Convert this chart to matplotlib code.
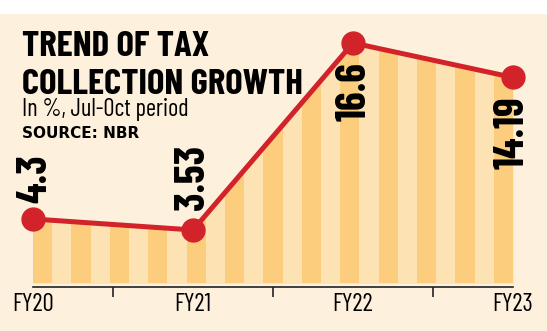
import numpy as np
import matplotlib
matplotlib.use("Agg")
import matplotlib.pyplot as plt
from matplotlib.patches import Rectangle

years = ["FY20", "FY21", "FY22", "FY23"]
growth = [4.3, 3.53, 16.6, 14.19]
labels = ["4.3", "3.53", "16.6", "14.19"]

BG = "#fdf0dc"
LIGHT = "#fde2b4"
DARK = "#fccd7d"
RED = "#d2232a"
NARROW = ["Barlow Condensed", "Archivo Narrow", "Liberation Sans Narrow", "DejaVu Sans"]

W, H = 547, 331
fig = plt.figure(figsize=(W / 100, H / 100), dpi=100, facecolor="white")
fig.patches.append(Rectangle((0, 0), 1, 1 - 14 / H, transform=fig.transFigure,
                             facecolor=BG, edgecolor="none", zorder=-10))

ax = fig.add_axes([0, 0, 1, 1])
ax.set_facecolor("none")
ax.set_xlim(-33 / 160, 514 / 160)
ax.set_ylim(-50.5 / 14.31, 280.5 / 14.31)

x = np.arange(len(years))
fill = ax.fill_between(x, growth, -0.2, color=LIGHT, lw=0, zorder=1)
clip = fill.get_paths()[0]

# darker vertical stripes clipped to the area under the line
step = 0.12
starts = np.arange(0, x[-1] + 1e-9, 2 * step)
bars = ax.bar(starts, 25, width=step, bottom=-0.2, align="edge", color=DARK, lw=0, zorder=2)
for b in bars:
    b.set_clip_path(clip, transform=ax.transData)

ax.plot(x, growth, color=RED, lw=3.6, zorder=3, solid_capstyle="round")
ax.plot(x, growth, "o", color=RED, ms=16.5, zorder=4)

offsets = [(2, 16, "bottom"), (0, 20, "bottom"), (2, -19, "top"), (0, -19, "top")]
for xi, v, t, (dx, dy, va) in zip(x, growth, labels, offsets):
    ax.annotate(t, (xi, v), xytext=(dx * 0.72, dy * 0.72), textcoords="offset points",
                rotation=90, ha="center", va=va, fontsize=30.5, fontweight="bold",
                family=NARROW, color="black", zorder=5)

for s in ["top", "right", "left"]:
    ax.spines[s].set_visible(False)
ax.spines["bottom"].set_position(("data", -0.454))
ax.spines["bottom"].set_bounds(0, 3)
ax.spines["bottom"].set_color("#222222")
ax.spines["bottom"].set_linewidth(1.2)
ax.set_yticks([])
ax.set_xticks(x)
ax.set_xticklabels(years, family=NARROW, fontsize=18)
ax.set_xticks([0.5, 1.5, 2.5], minor=True)
ax.tick_params(axis="x", which="major", length=0, pad=4)
ax.tick_params(axis="x", which="minor", length=7, width=1.2, direction="out", color="#222222")

fig.text(22 / W, 1 - 56 / H, "TREND OF TAX", family=NARROW, fontweight="bold",
         fontsize=26.5, va="baseline", ha="left")
fig.text(22 / W, 1 - 94 / H, "COLLECTION GROWTH", family=NARROW, fontweight="bold",
         fontsize=26.5, va="baseline", ha="left")
fig.text(22 / W, 1 - 116 / H, "In %, Jul-Oct period", family=NARROW,
         fontsize=17.5, va="baseline", ha="left")
fig.text(22 / W, 1 - 138 / H, "SOURCE: NBR", family="DejaVu Sans", fontweight="bold",
         fontsize=11, va="baseline", ha="left")

fig.savefig("out.png", dpi=100, facecolor="white")
